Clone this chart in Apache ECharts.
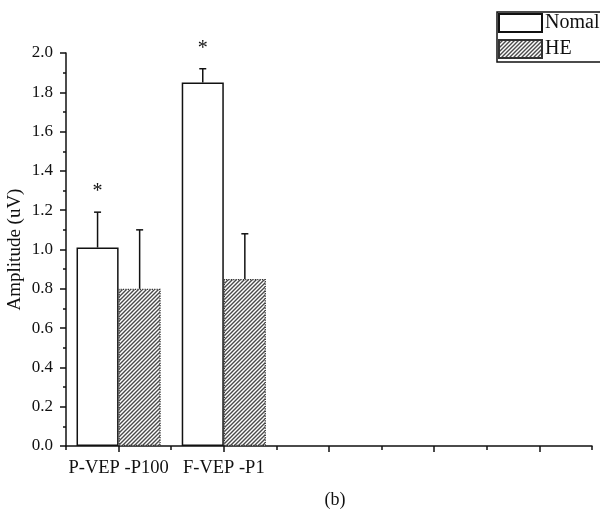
<!DOCTYPE html>
<html>
<head>
<meta charset="utf-8">
<script src="https://cdn.jsdelivr.net/npm/echarts@6/dist/echarts.min.js"></script>
<style>
  html, body { margin: 0; padding: 0; background: #fff; }
  #chart { width: 600px; height: 516px; }
</style>
</head>
<body>
<div id="chart"></div>
<script>
// categories on x axis (last three slots are empty in the figure)
var categories = ['P-VEP -P100', 'F-VEP -P1', '', '', ''];
var seriesNames = ['Nomal', 'HE'];
// bar heights
var normalValues = [1.01, 1.85];
var heValues = [0.80, 0.85];
// upper end of error bars
var normalErrTop = [1.19, 1.92];
var heErrTop = [1.10, 1.08];
// significance marks over the Nomal bars
var normalSig = ['*', '*'];

var FONT = "'Liberation Serif', 'Times New Roman', serif";

// diagonal hatch for the HE bars
function makeHatch() {
  var c = document.createElement('canvas');
  c.width = 4; c.height = 4;
  var ctx = c.getContext('2d');
  ctx.fillStyle = '#fff';
  ctx.fillRect(0, 0, 4, 4);
  ctx.strokeStyle = '#4a4a4a';
  ctx.lineWidth = 1.4;
  ctx.beginPath();
  ctx.moveTo(-1, 5); ctx.lineTo(5, -1);
  ctx.moveTo(-1, 1); ctx.lineTo(1, -1);
  ctx.moveTo(3, 5); ctx.lineTo(5, 3);
  ctx.stroke();
  return c;
}
var hatch = makeHatch();

function errData(vals, tops, sig) {
  var out = [];
  for (var i = 0; i < vals.length; i++) {
    out.push([i, tops[i], vals[i], sig ? sig[i] : '']);
  }
  return out;
}

function errRenderer(side) {
  return function (params, api) {
    var band = api.size([1, 0])[0];
    var base = api.coord([api.value(0), api.value(2)]);
    var top = api.coord([api.value(0), api.value(1)]);
    var x = base[0] + side * band * 0.2;
    var children = [
      { type: 'line', shape: { x1: x, y1: base[1], x2: x, y2: top[1] },
        style: { stroke: '#111', lineWidth: 1.5 } },
      { type: 'line', shape: { x1: x - 3.5, y1: top[1], x2: x + 3.5, y2: top[1] },
        style: { stroke: '#111', lineWidth: 1.5 } }
    ];
    var mark = api.value(3);
    if (mark) {
      children.push({ type: 'text', x: x, y: top[1] - 20,
        style: { text: mark, fontSize: 20, fontFamily: FONT, fill: '#111',
          align: 'center', verticalAlign: 'middle' } });
    }
    return { type: 'group', children: children };
  };
}

var chart = echarts.init(document.getElementById('chart'));
chart.setOption({
  animation: false,
  backgroundColor: '#fff',
  textStyle: { fontFamily: FONT, color: '#111' },
  title: {
    text: '(b)', left: 330, textAlign: 'center', top: 486,
    textStyle: { fontFamily: FONT, fontSize: 18, fontWeight: 'normal', color: '#111' }
  },
  legend: {
    data: seriesNames,
    orient: 'vertical',
    left: 497, top: 12,
    padding: [1, 80, 3, 1],
    itemGap: 6,
    itemWidth: 43, itemHeight: 18,
    borderColor: '#111', borderWidth: 1.5,
    icon: 'rect',
    textStyle: { fontFamily: FONT, fontSize: 20, color: '#111', padding: [0, 0, 0, -2] }
  },
  grid: { left: 66, right: 8, top: 53, bottom: 70, containLabel: false, outerBoundsMode: 'none' },
  xAxis: [
    {
      type: 'category', data: categories,
      axisLine: { lineStyle: { color: '#111', width: 1.5 } },
      axisTick: { show: true, alignWithLabel: true, length: 6, lineStyle: { color: '#111', width: 1.5 } },
      axisLabel: { fontFamily: FONT, fontSize: 18.5, color: '#111', margin: 13, interval: 0 }
    },
    {
      type: 'category', data: categories, position: 'bottom',
      axisLine: { show: false },
      axisTick: { show: true, length: 4, lineStyle: { color: '#111', width: 1.5 } },
      axisLabel: { show: false }
    }
  ],
  yAxis: {
    type: 'value', min: 0, max: 2, interval: 0.2,
    name: 'Amplitude (uV)', nameLocation: 'middle', nameGap: 41, nameMoveOverlap: false,
    nameTextStyle: { fontFamily: FONT, fontSize: 19, color: '#111' },
    axisLine: { show: true, lineStyle: { color: '#111', width: 1.5 } },
    axisTick: { show: true, length: 6, lineStyle: { color: '#111', width: 1.5 } },
    minorTick: { show: true, splitNumber: 2, length: 3, lineStyle: { color: '#111', width: 1.5 } },
    splitLine: { show: false },
    axisLabel: {
      fontFamily: FONT, fontSize: 17, color: '#111', margin: 13,
      formatter: function (v) { return v.toFixed(1); }
    }
  },
  series: [
    {
      name: seriesNames[0], type: 'bar', data: normalValues,
      barWidth: '40%', barGap: '0%',
      itemStyle: { color: '#fff', borderColor: '#111', borderWidth: 1.5 }
    },
    {
      name: seriesNames[1], type: 'bar', data: heValues,
      barWidth: '40%', barGap: '0%',
      itemStyle: { color: { image: hatch, repeat: 'repeat' }, borderColor: '#333', borderWidth: 1.2, borderType: 'dotted' }
    },
    {
      name: 'errN', type: 'custom', renderItem: errRenderer(-1),
      data: errData(normalValues, normalErrTop, normalSig), z: 5
    },
    {
      name: 'errH', type: 'custom', renderItem: errRenderer(1),
      data: errData(heValues, heErrTop, null), z: 5
    }
  ]
});
</script>
</body>
</html>
